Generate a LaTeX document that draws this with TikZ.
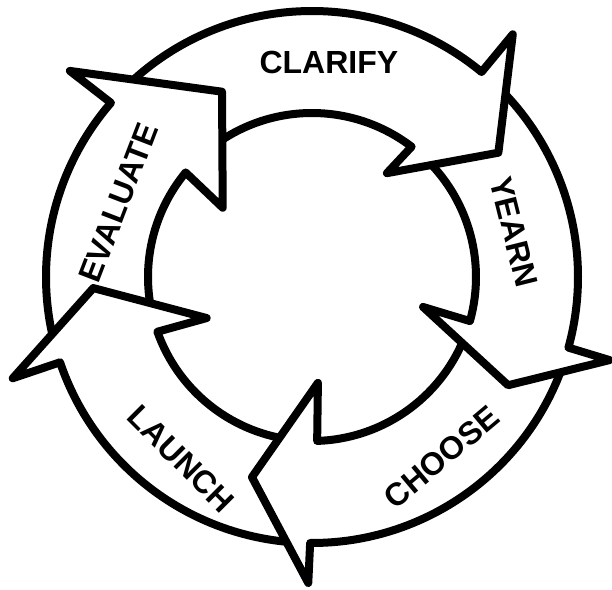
\documentclass[tikz,border=0pt]{standalone}
\usepackage{fontspec}
\setmainfont{Liberation Sans}

\begin{document}
\begin{tikzpicture}[
        x=1pt, y=1pt,
        ring/.style={line width=8pt, line join=round, line cap=round},
        head/.style={ring, fill=white},
        lbl/.style={font=\fontsize{32}{32}\selectfont\bfseries, inner sep=0pt},
    ]
    \useasboundingbox (0,0) rectangle (612,589);

    \begin{scope}[shift={(312,312)}]

    % =============================================
    % HEAD CORNERS (angle : radius)
    % =============================================
    \coordinate (ev-on)  at (139.1:266);
    \coordinate (ev-ow)  at (139.6:318);
    \coordinate (ev-tip) at (115.9:206);
    \coordinate (ev-iw)  at (142.2:113);
    \coordinate (ev-in)  at (140.4:164);

    \coordinate (cl-on)  at (50.4:266);
    \coordinate (cl-ow)  at (50.4:315);
    \coordinate (cl-tip) at (33.7:224);
    \coordinate (cl-iw)  at (54.2:128);
    \coordinate (cl-in)  at (52.6:164);

    \coordinate (ye-on)  at (-15.4:266);
    \coordinate (ye-ow)  at (-15.6:309);
    \coordinate (ye-tip) at (-28.9:224);
    \coordinate (ye-iw)  at (-15.1:115);
    \coordinate (ye-in)  at (-15.6:164);

    \coordinate (ch-on)  at (-90.4:266);
    \coordinate (ch-ow)  at (-90.7:306);
    \coordinate (ch-tip) at (-106.7:209);
    \coordinate (ch-iw)  at (-86.8:106);
    \coordinate (ch-in)  at (-88.2:164);

    \coordinate (la-on)  at (198.7:266);
    \coordinate (la-ow)  at (198.7:316);
    \coordinate (la-tip) at (182.9:219);
    \coordinate (la-iw)  at (201.3:113);
    \coordinate (la-in)  at (199.5:164);

    % =============================================
    % BANDS (tails start under the previous head)
    % =============================================
    \draw[ring] (195:266) arc[start angle=195, end angle=139.1, radius=266]
                (192:164) arc[start angle=192, end angle=140.4, radius=164];
    \draw[ring] (133:266) arc[start angle=133, end angle=50.4, radius=266]
                (125:164) arc[start angle=125, end angle=52.6, radius=164];
    \draw[ring] (46:266) arc[start angle=46, end angle=-15.4, radius=266]
                (45:164) arc[start angle=45, end angle=-15.6, radius=164];
    \draw[ring] (-19:266) arc[start angle=-19, end angle=-90.4, radius=266]
                (-22:164) arc[start angle=-22, end angle=-88.2, radius=164];
    \draw[ring] (-93:266) arc[start angle=-93, end angle=-161.3, radius=266]
                (-98:164) arc[start angle=-98, end angle=-160.5, radius=164];

    % =============================================
    % HEADS
    % =============================================
    \draw[head] (ev-on) -- (ev-ow) -- (ev-tip) -- (ev-iw) -- (ev-in);
    \draw[head] (cl-on) -- (cl-ow) -- (cl-tip) -- (cl-iw) -- (cl-in);
    \draw[head] (ye-on) -- (ye-ow) -- (ye-tip) -- (ye-iw) -- (ye-in);
    \draw[head] (ch-on) -- (ch-ow) -- (ch-tip) -- (ch-iw) -- (ch-in);
    \draw[head] (la-on) -- (la-ow) -- (la-tip) -- (la-iw) -- (la-in);

    % =============================================
    % LABELS
    % =============================================
    \node[lbl]             (clarify)  at (85.5:215)  {CLARIFY};
    \node[lbl, rotate=-76] (yearn)    at (12.6:207)  {YEARN};
    \node[lbl, rotate=40]  (choose)   at (-54.3:222) {CHOOSE};
    \node[lbl, rotate=-45] (launch)   at (234.3:224) {LAUNCH};
    \node[lbl, rotate=69]  (evaluate) at (159:207)   {EVALUATE};

    \end{scope}
\end{tikzpicture}
\end{document}
